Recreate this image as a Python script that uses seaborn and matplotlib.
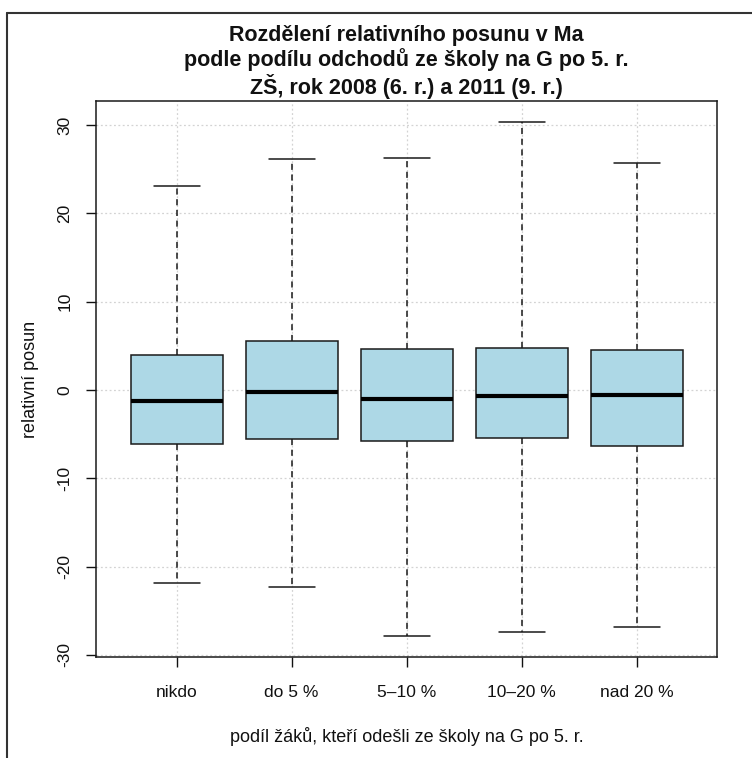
import numpy as np
import pandas as pd
import matplotlib
matplotlib.use("Agg")
import matplotlib.pyplot as plt
from matplotlib.lines import Line2D
import seaborn as sns

sns.set_theme(style="white")
plt.rcParams.update({
    'font.family': ['Liberation Sans', 'DejaVu Sans'],
    'axes.unicode_minus': False,
    'text.color': '#111111',
    'axes.labelcolor': '#111111',
    'xtick.color': '#111111',
    'ytick.color': '#111111',
})

# data (five-number summary per group)
skupiny = ['nikdo', 'do 5 %', '5–10 %', '10–20 %', 'nad 20 %']
minimum = [-21.9, -22.3, -27.9, -27.4, -26.8]
q1 = [-6.1, -5.6, -5.8, -5.4, -6.3]
median = [-1.2, -0.2, -1.0, -0.7, -0.6]
q3 = [4.0, 5.5, 4.6, 4.8, 4.5]
maximum = [23.1, 26.2, 26.3, 30.4, 25.7]
y_ticks = [-30, -20, -10, 0, 10, 20, 30]

rows = []
for i, s in enumerate(skupiny):
    for v in (minimum[i], q1[i], median[i], q3[i], maximum[i]):
        rows.append({'skupina': s, 'posun': v})
df = pd.DataFrame(rows)

W, H = 752, 758
fig = plt.figure(figsize=(W / 100, H / 100), dpi=100)
fig.patch.set_facecolor('white')
ax = fig.add_axes([96 / W, 1 - 657 / H, (717 - 96) / W, (657 - 101) / H])

sns.boxplot(data=df, x='skupina', y='posun', order=skupiny, ax=ax,
            color='#ADD8E6', saturation=1, width=0.8, whis=(0, 100),
            showfliers=False, linecolor='#1a1a1a', linewidth=1.1,
            medianprops=dict(color='black', linewidth=3),
            whiskerprops=dict(linestyle=(0, (4, 3)), color='#1a1a1a', linewidth=1.1),
            capprops=dict(color='#1a1a1a', linewidth=1.1))

# R-like axis limits (4 % extension)
lo, hi = min(minimum), max(maximum)
ext = 0.04 * (hi - lo)
ax.set_ylim(lo - ext, hi + ext)
ax.set_xlim(-0.7, len(skupiny) - 0.3)

ax.set_yticks(y_ticks)
ax.set_yticklabels([str(t) for t in y_ticks], rotation=90, va='center', fontsize=12.5)
ax.set_xticks(range(len(skupiny)))
ax.set_xticklabels(skupiny, fontsize=12.5)
ax.tick_params(axis='both', direction='out', length=7, width=1, bottom=True, left=True)
ax.tick_params(axis='y', pad=10)
ax.tick_params(axis='x', pad=13)

ax.grid(True, color='#d3d3d3', linestyle=(0, (1.5, 2)), linewidth=0.9)
ax.set_axisbelow(True)
for sp in ax.spines.values():
    sp.set_visible(True)
    sp.set_color('#1a1a1a')
    sp.set_linewidth(1.1)

ax.set_xlabel('podíl žáků, kteří odešli ze školy na G po 5. r.', fontsize=13)
ax.set_ylabel('relativní posun', fontsize=13)
ax.xaxis.label.set_va('center')
ax.yaxis.label.set_va('center')
ax.xaxis.set_label_coords(0.5, -(736 - 657) / (657 - 101))
ax.yaxis.set_label_coords(-(96 - 31) / (717 - 96), 0.5)

fig.text((96 + 717) / 2 / W, 1 - 62 / H,
         'Rozdělení relativního posunu v Ma\n'
         'podle podílu odchodů ze školy na G po 5. r.\n'
         'ZŠ, rok 2008 (6. r.) a 2011 (9. r.)',
         ha='center', va='center', fontsize=15.5, fontweight='bold',
         linespacing=1.15)

# frame of the original screenshot (top and left only)
fig.add_artist(Line2D([7 / W, 1], [1 - 13 / H, 1 - 13 / H], color='#333333', linewidth=1.5))
fig.add_artist(Line2D([7 / W, 7 / W], [1 - 13 / H, 0], color='#333333', linewidth=1.5))

fig.savefig('out.png', dpi=100)
